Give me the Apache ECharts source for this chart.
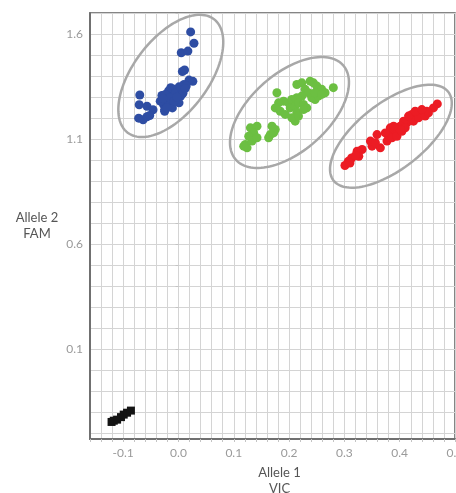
<!DOCTYPE html>
<html><head><meta charset="utf-8">
<script src="https://cdn.jsdelivr.net/npm/echarts@6/dist/echarts.min.js"></script>
<style>html,body{margin:0;padding:0;background:#fff}#c{width:456px;height:493px}</style>
</head><body><div id="c"></div>
<script>
// Tick labels shown on the axes
const xTickLabels = ['-0.1', '0.0', '0.1', '0.2', '0.3', '0.4', '0.5'];
const yTickLabels = ['0.1', '0.6', '1.1', '1.6'];

// Allele 2 (FAM) homozygotes - blue
const blueCluster = [
  [0.022,1.610],[0.028,1.556],[0.005,1.511],[0.017,1.519],[0.007,1.422],[0.011,1.429],
  [0.026,1.375],[0.019,1.381],[-0.070,1.310],[-0.071,1.264],[-0.057,1.257],[-0.046,1.240],
  [-0.072,1.200],[-0.064,1.192],[-0.057,1.207],[-0.052,1.213],
  [-0.030,1.308],[-0.027,1.265],[-0.025,1.241],[-0.025,1.233],[-0.018,1.329],[-0.021,1.289],
  [-0.014,1.265],[-0.011,1.305],[-0.008,1.337],[-0.005,1.289],[-0.002,1.321],[0.001,1.349],
  [0.004,1.305],[0.007,1.337],[0.010,1.360],[0.014,1.353],[0.001,1.273],[-0.011,1.249],
  [-0.021,1.249],[-0.033,1.281],[-0.024,1.313],[-0.014,1.345],[-0.005,1.321],[0.004,1.345],
  [-0.016,1.297],[-0.008,1.281],[0.008,1.318],[-0.028,1.293],[-0.003,1.300],[0.012,1.341]
];

// Heterozygotes - green
const greenCluster = [
  [0.178,1.321],[0.214,1.360],[0.223,1.368],[0.238,1.376],[0.244,1.368],[0.250,1.353],
  [0.259,1.337],[0.265,1.321],[0.280,1.345],[0.229,1.337],[0.235,1.321],[0.241,1.297],
  [0.247,1.289],[0.253,1.305],[0.223,1.305],[0.214,1.297],[0.205,1.289],[0.199,1.273],
  [0.190,1.281],[0.181,1.273],[0.175,1.249],[0.184,1.233],[0.193,1.218],[0.202,1.249],
  [0.211,1.257],[0.217,1.273],[0.226,1.265],[0.232,1.249],[0.214,1.226],[0.211,1.186],
  [0.205,1.202],[0.217,1.210],[0.226,1.241],[0.247,1.321],[0.259,1.313],
  [0.130,1.154],[0.142,1.162],[0.136,1.130],[0.127,1.114],[0.121,1.075],[0.124,1.059],
  [0.133,1.091],[0.142,1.107],[0.169,1.162],[0.175,1.146],[0.166,1.122],[0.163,1.107],
  [0.172,1.130],[0.118,1.067]
];

// Allele 1 (VIC) homozygotes - red
const redCluster = [
  [0.468,1.268],[0.461,1.249],[0.449,1.233],[0.443,1.218],[0.437,1.225],[0.431,1.210],
  [0.422,1.218],[0.419,1.194],[0.413,1.178],[0.407,1.186],[0.401,1.162],[0.395,1.146],
  [0.389,1.130],[0.383,1.154],[0.380,1.114],[0.374,1.130],[0.377,1.091],[0.386,1.107],
  [0.395,1.114],[0.404,1.138],[0.410,1.154],[0.425,1.186],[0.434,1.202],[0.446,1.210],
  [0.452,1.225],[0.359,1.122],[0.365,1.059],[0.350,1.067],[0.347,1.091],[0.356,1.083],
  [0.332,1.051],[0.323,1.043],[0.326,1.019],[0.313,1.011],[0.307,0.995],[0.301,0.975],
  [0.310,0.987],[0.320,1.022],[0.416,1.210],[0.428,1.233],[0.440,1.241],[0.401,1.146],
  [0.389,1.162]
];

// No-template controls - black squares
const ntcCluster = [
  [-0.121,-0.244],[-0.117,-0.238],[-0.111,-0.233],[-0.104,-0.221],[-0.099,-0.209],
  [-0.093,-0.200],[-0.086,-0.190]
];

// Cluster boundaries: centre (x, y), semi-axis vectors u and v, in axis units
const clusterEllipses = [
  [-0.0139, 1.401, 0.0780, 0.2699, 0.0540, -0.1078],
  [0.2007, 1.2271, 0.0971, 0.2243, 0.0463, -0.1388],
  [0.3841, 1.1144, 0.1038, 0.2105, 0.0367, -0.1250]
];

const FONT = 'Lato, "Open Sans", sans-serif';
function pickLabel(list, v) {
  const s = list.find(t => Math.abs(parseFloat(t) - v) < 1e-6);
  return s === undefined ? '' : s;
}
const clear = 'rgba(0,0,0,0)';
const gridColor = '#d4d4d4';

const Y_MIN = -0.325, Y_MAX = 1.7, Y_TICK_MIN = -0.3;
const PLOT_TOP = 13, PLOT_BOTTOM = 54, H = 493;
const plotH = H - PLOT_TOP - PLOT_BOTTOM;
const tickBottom = PLOT_BOTTOM + plotH * (Y_TICK_MIN - Y_MIN) / (Y_MAX - Y_MIN);

const chart = echarts.init(document.getElementById('c'), null, {renderer: 'canvas'});
chart.setOption({
  animation: false,
  backgroundColor: '#fff',
  grid: [
    {left: 90, right: 1, top: PLOT_TOP, bottom: PLOT_BOTTOM, show: true, borderColor: '#5e5e5e', borderWidth: 1.5,
      containLabel: false, outerBoundsMode: 'none'},
    {left: 90, right: 1, top: PLOT_TOP, bottom: tickBottom, show: false, containLabel: false, outerBoundsMode: 'none'}
  ],
  xAxis: [{
    type: 'value', min: -0.16, max: 0.5, interval: 0.02, gridIndex: 0,
    name: 'Allele 1\nVIC', nameLocation: 'middle', nameGap: 26,
    nameTextStyle: {color: '#555', fontSize: 13, lineHeight: 16, fontFamily: FONT, padding: [0, 0, 0, 14]},
    axisLine: {show: true, onZero: false, lineStyle: {color: '#707070', width: 2}},
    axisTick: {show: true, length: 3, lineStyle: {color: '#c4c4c4'}},
    axisLabel: {color: '#9a9a9a', fontSize: 12, fontFamily: FONT, margin: 8, showMinLabel: true, showMaxLabel: true,
      hideOverlap: false, formatter: v => pickLabel(xTickLabels, v)},
    splitLine: {show: true, lineStyle: {color: gridColor, width: 1}}
  }, {
    type: 'value', min: -0.16, max: 0.5, gridIndex: 1, show: false
  }],
  yAxis: [{
    type: 'value', min: Y_MIN, max: Y_MAX, interval: 0.025, gridIndex: 0,
    name: 'Allele 2\nFAM', nameLocation: 'middle', nameRotate: 0, nameGap: 53,
    nameTextStyle: {color: '#555', fontSize: 13, lineHeight: 16, fontFamily: FONT, align: 'center', verticalAlign: 'middle', padding: [0, 0, 16, 0]},
    axisLine: {show: true, onZero: false, lineStyle: {color: '#707070', width: 2}},
    axisTick: {show: false},
    axisLabel: {color: '#9a9a9a', fontSize: 12, fontFamily: FONT, margin: 7,
      formatter: v => pickLabel(yTickLabels, v)},
    splitLine: {show: true, lineStyle: {color: [clear, gridColor, clear, clear], width: 1}}
  }, {
    type: 'value', min: Y_TICK_MIN, max: Y_MAX, interval: 0.1, gridIndex: 1,
    axisLine: {show: false}, axisLabel: {show: false}, splitLine: {show: false},
    axisTick: {show: true, length: 3, lineStyle: {color: '#c4c4c4'}}
  }],
  series: [
    {
      type: 'custom', data: clusterEllipses, encode: {x: 0, y: 1}, silent: true, z: 1,
      renderItem: function (params, api) {
        const cx = api.value(0), cy = api.value(1), ux = api.value(2), uy = api.value(3), vx = api.value(4), vy = api.value(5);
        const pts = [];
        for (let i = 0; i < 120; i++) {
          const t = i / 120 * Math.PI * 2;
          pts.push(api.coord([cx + ux * Math.cos(t) + vx * Math.sin(t), cy + uy * Math.cos(t) + vy * Math.sin(t)]));
        }
        return {type: 'polygon', shape: {points: pts}, style: {fill: 'none', stroke: '#a8a8a8', lineWidth: 2.5}};
      }
    },
    {type: 'scatter', data: blueCluster, symbol: 'circle', symbolSize: 9, z: 3, itemStyle: {color: '#2e4da3', opacity: 1}},
    {type: 'scatter', data: greenCluster, symbol: 'circle', symbolSize: 9, z: 3, itemStyle: {color: '#6cbf42', opacity: 1}},
    {type: 'scatter', data: redCluster, symbol: 'circle', symbolSize: 9, z: 3, itemStyle: {color: '#ec1c24', opacity: 1}},
    {type: 'scatter', data: ntcCluster, symbol: 'rect', symbolSize: 8, z: 3, itemStyle: {color: '#141414', opacity: 1}}
  ]
});
</script>
</body></html>
